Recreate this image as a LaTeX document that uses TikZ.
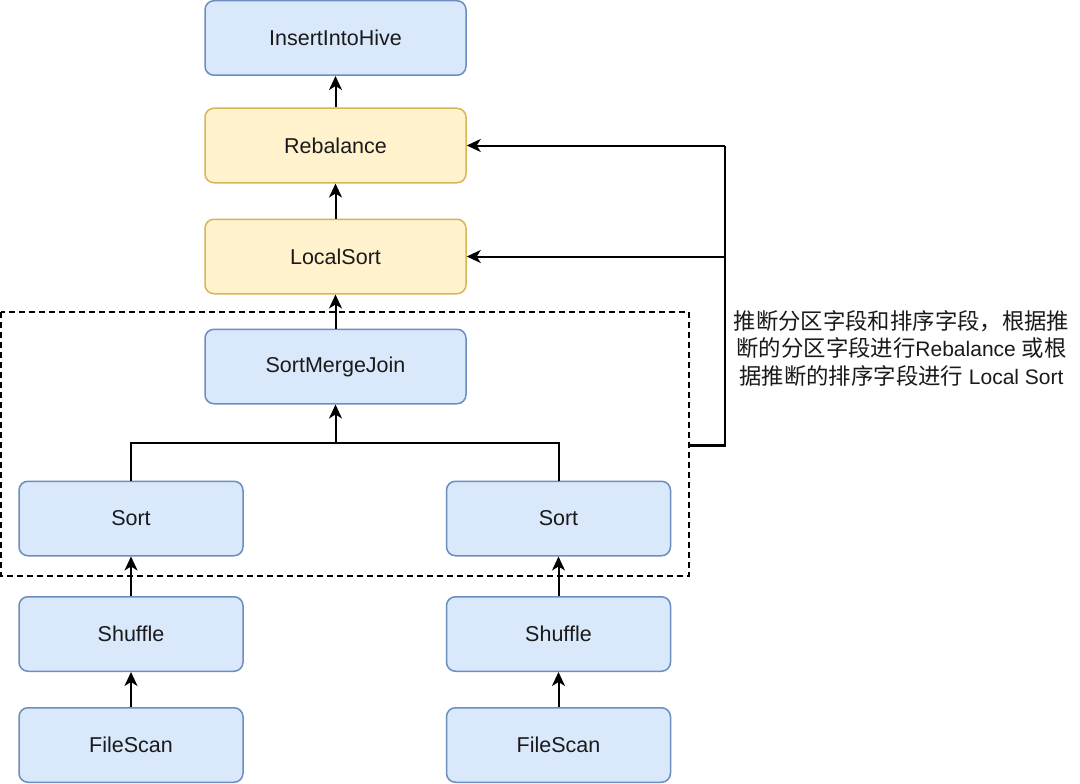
\documentclass[tikz,border=0pt]{standalone}
\usepackage{fontspec}
\setmainfont{Liberation Sans}
\newfontfamily\cjk[Scale=1.065]{Noto Sans CJK SC}
\usetikzlibrary{arrows.meta}
\definecolor{bluefill}{HTML}{DAE8FC}
\definecolor{bluedraw}{HTML}{6C8EBF}
\definecolor{yelfill}{HTML}{FFF2CC}
\definecolor{yeldraw}{HTML}{D6B656}
\definecolor{txt}{HTML}{1A1A1A}
\tikzset{
  box/.style={rectangle, rounded corners=9, line width=1.5pt, text=txt,
    font=\fontsize{21.5}{26}\selectfont, inner sep=0pt},
  bluebox/.style={box, fill=bluefill, draw=bluedraw},
  yelbox/.style={box, fill=yelfill, draw=yeldraw},
  wide/.style={minimum width=261, minimum height=74.5},
  narrow/.style={minimum width=224, minimum height=74.5},
  arr/.style={line width=2pt, -{Stealth[length=14pt, width=13pt, inset=4pt]}},
  conn/.style={line width=2pt},
  dashbox/.style={line width=1.6pt, dash pattern=on 6pt off 4pt},
}
\begin{document}
\begin{tikzpicture}[x=1pt, y=-1pt]
\useasboundingbox[fill=white] (0,0) rectangle (1080,784);

\node[bluebox, wide] (ins) at (335.5,38) {InsertIntoHive};
\node[yelbox, wide] (reb) at (335.5,145.5) {Rebalance};
\node[yelbox, wide] (ls) at (335.5,256.5) {LocalSort};
\node[bluebox, wide] (smj) at (335.5,366.5) {SortMergeJoin};
\node[bluebox, narrow] (sortL) at (131,518.5) {Sort};
\node[bluebox, narrow] (sortR) at (558.5,518.5) {Sort};
\node[bluebox, narrow] (shufL) at (131,634) {Shuffle};
\node[bluebox, narrow] (shufR) at (558.5,634) {Shuffle};
\node[bluebox, narrow] (fsL) at (131,745) {FileScan};
\node[bluebox, narrow] (fsR) at (558.5,745) {FileScan};

\draw[dashbox] (1,312) rectangle (689,576);

\draw[arr] (reb.north) -- (ins.south);
\draw[arr] (ls.north) -- (reb.south);
\draw[arr] (smj.north) -- (ls.south);
\draw[arr] (shufL.north) -- (sortL.south);
\draw[arr] (shufR.north) -- (sortR.south);
\draw[arr] (fsL.north) -- (shufL.south);
\draw[arr] (fsR.north) -- (shufR.south);

\coordinate (join) at (335.5,443);
\draw[conn] (sortL.north) |- (join);
\draw[conn] (sortR.north) |- (join);
\draw[arr] (join) -- (smj.south);

\coordinate (brTop) at (725,145.5);
\coordinate (brMid) at (725,256.5);
\coordinate (brBot) at (725,445);
\coordinate (brEnd) at (689,445);
\draw[conn] (brTop) -- (brBot);
\draw[line width=3pt] (726,445) -- (brEnd);
\draw[arr] (brTop) -- (reb.east);
\draw[arr] (brMid) -- (ls.east);

\node[text=txt, align=center, font=\fontsize{21}{27.5}\selectfont, inner sep=0pt] (note) at (901.5,348)
  {{\cjk 推断分区字段和排序字段，根据推}\\
   {\cjk 断的分区字段进行}Rebalance {\cjk 或根}\\
   {\cjk 据推断的排序字段进行} Local Sort};
\end{tikzpicture}
\end{document}
